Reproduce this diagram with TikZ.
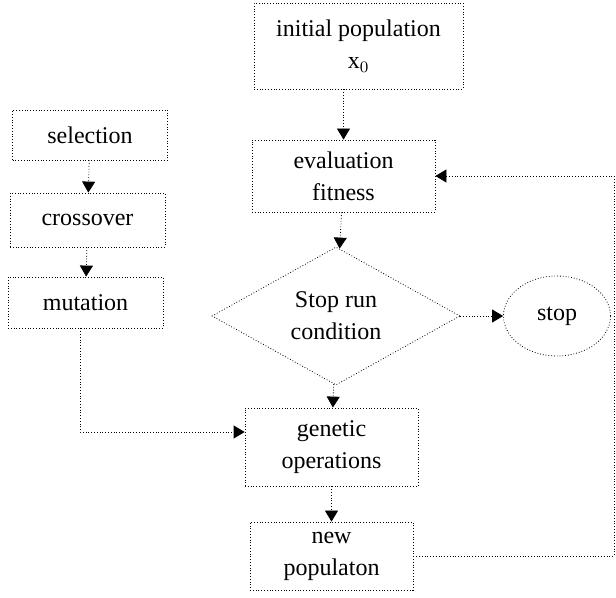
\documentclass[tikz,border=0pt]{standalone}
\usepackage{fontspec}
\setmainfont{Liberation Serif}
\usetikzlibrary{shapes,arrows.meta,positioning}

\begin{document}
\begin{tikzpicture}[x=0.5pt, y=-0.5pt,
    >={Triangle[length=5.5pt,width=6.5pt]},
    pbox/.style={draw, densely dotted, align=center, inner sep=1pt,
                 font=\fontsize{12}{16}\selectfont},
    link/.style={->, densely dotted},
]
\useasboundingbox (0,0) rectangle (616,598);

\node[pbox, minimum width=104.5pt, minimum height=43pt] (init) at (358.5,46)
    {initial population\\x$_0$};
\node[pbox, minimum width=91.5pt, minimum height=36pt] (eval) at (343.5,176)
    {evaluation\\fitness};
\node[pbox, diamond, aspect=1.8, minimum width=124pt, minimum height=69pt,
      inner sep=0pt] (cond) at (336,316)
    {Stop run\\condition};
\node[pbox, ellipse, minimum width=53.5pt, minimum height=40pt] (stop) at (557,316)
    {stop};
\node[pbox, minimum width=86.5pt, minimum height=39pt] (gen) at (331.5,447)
    {genetic\\operations};
\node[pbox, minimum width=81.5pt, minimum height=34pt] (newpop) at (331.5,556)
    {new\\populaton};

\node[pbox, minimum width=77.5pt, minimum height=25pt] (sel) at (90,135)
    {selection};
\node[pbox, minimum width=77.5pt, minimum height=27pt] (cross) at (87.5,220)
    {crossover};
\node[pbox, minimum width=77.5pt, minimum height=25.5pt] (mut) at (85.5,302.5)
    {mutation};

% main flow
\draw[link] (init.south -| eval.north) -- (eval);
\draw[link] (eval) -- (cond);
\draw[link] (cond) -- (gen);
\draw[link] (gen) -- (newpop);
\draw[link] (cond) -- (stop);

% operators
\draw[link] (sel) -- (cross);
\draw[link] (cross) -- (mut);
\coordinate (opin) at (gen.west |- 0,432);
\draw[link] (mut.south -| 80,0) |- (opin);

% loop back
\coordinate (corner) at (614,556);
\draw[link] (newpop.east) -- (corner) |- (eval.east);
\end{tikzpicture}
\end{document}
